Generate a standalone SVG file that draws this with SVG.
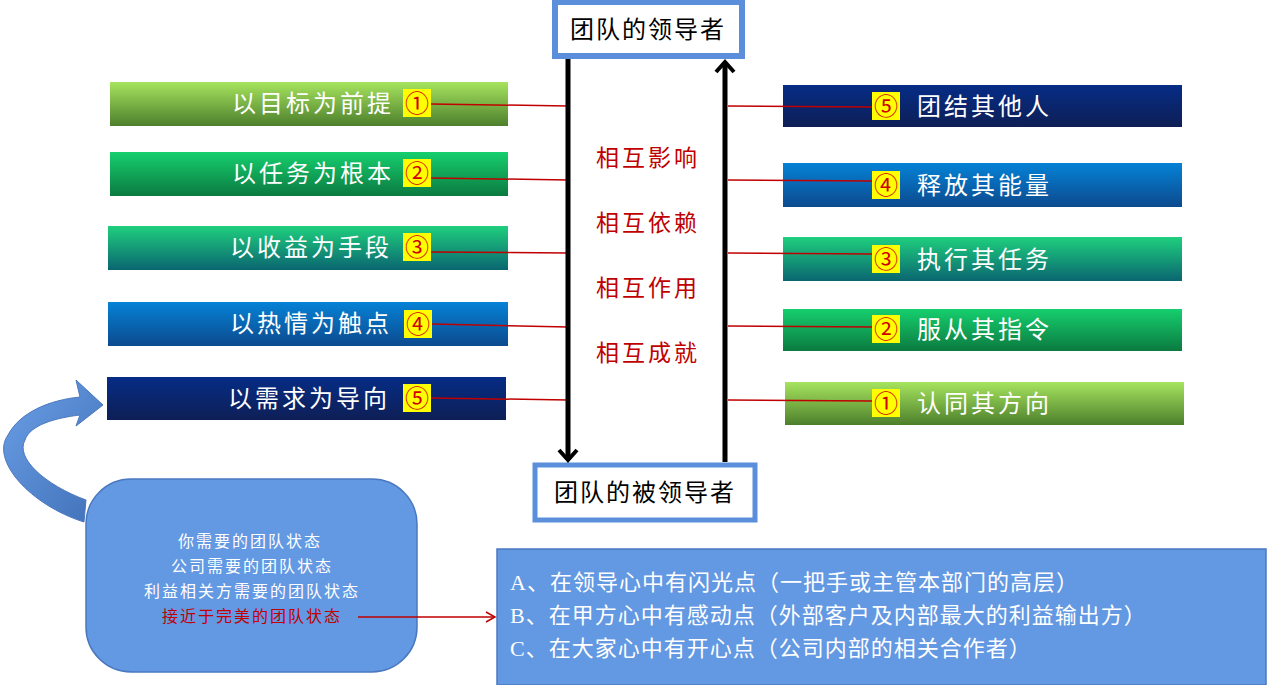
<svg xmlns="http://www.w3.org/2000/svg" width="1267" height="685" viewBox="0 0 1267 685">
<defs>
<linearGradient id="g1" x1="0" y1="0" x2="0" y2="1"><stop offset="0" stop-color="#a6e45e"/><stop offset="1" stop-color="#4d7f2c"/></linearGradient>
<linearGradient id="g2" x1="0" y1="0" x2="0" y2="1"><stop offset="0" stop-color="#16cf6e"/><stop offset="1" stop-color="#0b7a40"/></linearGradient>
<linearGradient id="g3" x1="0" y1="0" x2="0" y2="1"><stop offset="0" stop-color="#1fcf7e"/><stop offset="1" stop-color="#0a6670"/></linearGradient>
<linearGradient id="g4" x1="0" y1="0" x2="0" y2="1"><stop offset="0" stop-color="#0582d6"/><stop offset="1" stop-color="#0c4a8e"/></linearGradient>
<linearGradient id="g5" x1="0" y1="0" x2="0" y2="1"><stop offset="0" stop-color="#062c86"/><stop offset="1" stop-color="#0e1f55"/></linearGradient>
<linearGradient id="ca" x1="0" y1="0" x2="1" y2="1"><stop offset="0" stop-color="#6a9fe6"/><stop offset="1" stop-color="#4070b8"/></linearGradient>
<marker id="open" markerWidth="12" markerHeight="12" refX="10" refY="6" orient="auto" markerUnits="userSpaceOnUse"><path d="M1,1 L10,6 L1,11" fill="none" stroke="#c00000" stroke-width="1.5"/></marker>
<marker id="blk" markerWidth="24" markerHeight="24" refX="12" refY="12" orient="auto" markerUnits="userSpaceOnUse"><path d="M2,3 L12,12 L2,21" fill="none" stroke="#000" stroke-width="4"/></marker>
</defs>
<style>
.bt{font-family:"Noto Sans CJK SC","Liberation Serif",serif;font-size:24px;fill:#fff;letter-spacing:3px}
.bd{fill:#ffff00}
.num{font-family:"Liberation Serif","Noto Sans CJK SC",serif;font-size:24px;fill:#d00000;text-anchor:middle}
.ln{stroke:#c00000;stroke-width:1.5;fill:none}
.mid{font-family:"Noto Sans CJK SC",serif;font-size:23px;fill:#c00000;text-anchor:middle;letter-spacing:3px}
.hd{font-family:"Noto Sans CJK SC",serif;font-size:24px;fill:#000;text-anchor:middle;letter-spacing:2px}
.st{font-family:"Noto Sans CJK SC",serif;font-size:16px;fill:#fff;text-anchor:middle;letter-spacing:2px}
.rb{font-family:"Liberation Serif","Noto Sans CJK SC",serif;font-size:22px;fill:#fff;letter-spacing:1px}
</style>
<g id="left-bars">
<g id="L1"><rect x="110" y="82" width="398" height="44" fill="url(#g1)"/><text class="bt" x="232" y="112">以目标为前提</text><rect class="bd" x="403" y="89" width="28" height="28"/><text class="num" x="417" y="112">①</text></g>
<g id="L2"><rect x="110" y="152" width="398" height="44" fill="url(#g2)"/><text class="bt" x="232" y="182">以任务为根本</text><rect class="bd" x="403" y="159" width="28" height="28"/><text class="num" x="417" y="182">②</text></g>
<g id="L3"><rect x="108" y="226" width="400" height="44" fill="url(#g3)"/><text class="bt" x="230" y="256">以收益为手段</text><rect class="bd" x="403" y="233" width="28" height="28"/><text class="num" x="417" y="256">③</text></g>
<g id="L4"><rect x="108" y="302" width="400" height="44" fill="url(#g4)"/><text class="bt" x="230" y="332">以热情为触点</text><rect class="bd" x="404" y="310" width="28" height="28"/><text class="num" x="418" y="333">④</text></g>
<g id="L5"><rect x="107" y="377" width="399" height="43" fill="url(#g5)"/><text class="bt" x="228" y="407">以需求为导向</text><rect class="bd" x="403" y="384" width="28" height="28"/><text class="num" x="417" y="407">⑤</text></g>
</g>
<g id="right-bars">
<g id="R5"><rect x="783" y="85" width="399" height="42" fill="url(#g5)"/><rect class="bd" x="872" y="92" width="28" height="28"/><text class="num" x="886" y="115">⑤</text><text class="bt" x="917" y="115">团结其他人</text></g>
<g id="R4"><rect x="783" y="163" width="399" height="44" fill="url(#g4)"/><rect class="bd" x="872" y="171" width="28" height="28"/><text class="num" x="886" y="194">④</text><text class="bt" x="917" y="194">释放其能量</text></g>
<g id="R3"><rect x="783" y="237" width="399" height="44" fill="url(#g3)"/><rect class="bd" x="872" y="245" width="28" height="28"/><text class="num" x="886" y="268">③</text><text class="bt" x="917" y="268">执行其任务</text></g>
<g id="R2"><rect x="783" y="309" width="399" height="42" fill="url(#g2)"/><rect class="bd" x="872" y="315" width="28" height="28"/><text class="num" x="886" y="338">②</text><text class="bt" x="917" y="338">服从其指令</text></g>
<g id="R1"><rect x="785" y="382" width="399" height="43" fill="url(#g1)"/><rect class="bd" x="872" y="389" width="28" height="28"/><text class="num" x="886" y="412">①</text><text class="bt" x="917" y="412">认同其方向</text></g>
</g>
<g id="leader"><rect x="555" y="2" width="187" height="54" fill="#fff" stroke="#5b8fdc" stroke-width="6"/><text class="hd" x="648" y="38">团队的领导者</text></g>
<g id="follower"><rect x="535" y="465" width="220" height="55" fill="#fff" stroke="#5b8fdc" stroke-width="5"/><text class="hd" x="645" y="501">团队的被领导者</text></g>
<g id="mid-labels">
<text class="mid" x="648" y="166">相互影响</text>
<text class="mid" x="648" y="231">相互依赖</text>
<text class="mid" x="648" y="296">相互作用</text>
<text class="mid" x="648" y="361">相互成就</text>
</g>
<g id="state"><rect x="86" y="479" width="331" height="193" rx="45" fill="#6398e2" stroke="#4a78c0" stroke-width="1.5"/>
<text class="st" x="250" y="547">你需要的团队状态</text>
<text class="st" x="252" y="572">公司需要的团队状态</text>
<text class="st" x="252" y="597">利益相关方需要的团队状态</text>
<text class="st" x="252" y="622" style="fill:#c00000">接近于完美的团队状态</text></g>
<g id="points"><rect x="497" y="549" width="769" height="136" fill="#6398e2" stroke="#4a78c0" stroke-width="1.5"/>
<text class="rb" x="510" y="590">A、在领导心中有闪光点（一把手或主管本部门的高层）</text>
<text class="rb" x="510" y="623">B、在甲方心中有感动点（外部客户及内部最大的利益输出方）</text>
<text class="rb" x="510" y="656">C、在大家心中有开心点（公司内部的相关合作者）</text></g>
<g id="connectors">
<line class="ln" x1="431" y1="104" x2="568" y2="106"/>
<line class="ln" x1="431" y1="178" x2="568" y2="180"/>
<line class="ln" x1="431" y1="252" x2="568" y2="253"/>
<line class="ln" x1="432" y1="324" x2="568" y2="327"/>
<line class="ln" x1="431" y1="398" x2="568" y2="400"/>
<line class="ln" x1="728" y1="106" x2="872" y2="107"/>
<line class="ln" x1="728" y1="180" x2="872" y2="181"/>
<line class="ln" x1="728" y1="253" x2="872" y2="254"/>
<line class="ln" x1="728" y1="326" x2="872" y2="327"/>
<line class="ln" x1="728" y1="400" x2="872" y2="401"/>
<line x1="568" y1="59" x2="568" y2="460" stroke="#000" stroke-width="5" marker-end="url(#blk)"/>
<line x1="725" y1="462" x2="725" y2="62" stroke="#000" stroke-width="5" marker-end="url(#blk)"/>
<line class="ln" x1="358" y1="617" x2="495" y2="617" marker-end="url(#open)"/>
<path d="M84,522 C30,505 -10,460 8,435 C20,412 50,400 80,397 L76,380 L103,405 L76,426 L80,415 C55,418 30,425 25,440 C15,458 45,485 86,500 Z" fill="url(#ca)" stroke="#4a78c0" stroke-width="1"/>
</g>
</svg>
